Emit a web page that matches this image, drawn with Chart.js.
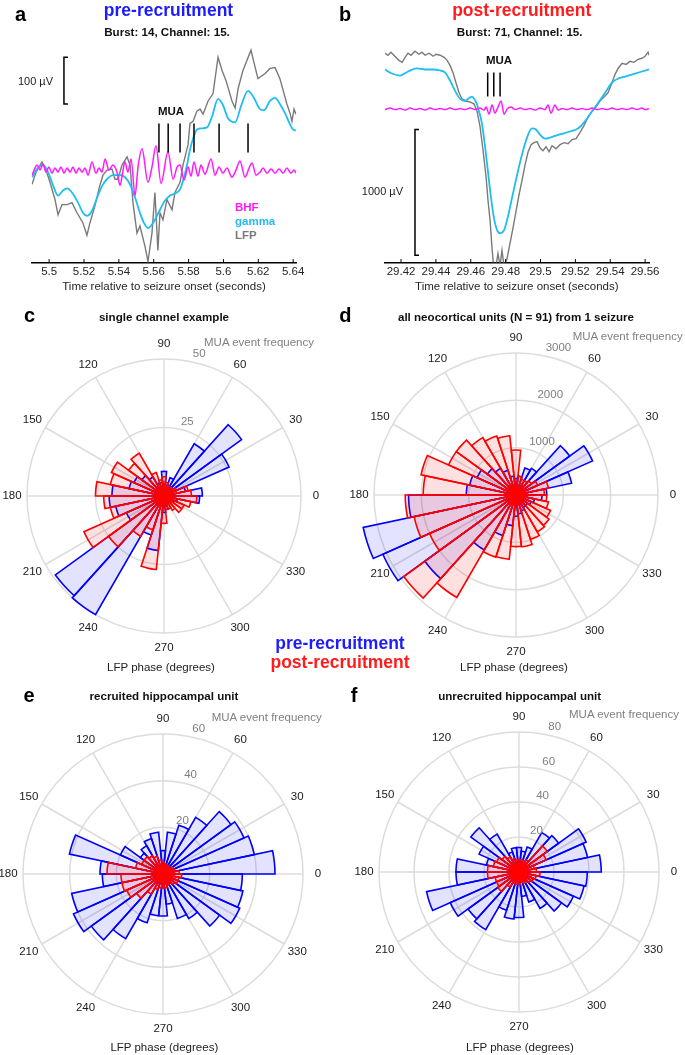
<!DOCTYPE html>
<html>
<head>
<meta charset="utf-8">
<script src="https://cdn.jsdelivr.net/npm/chart.js@4.4.1/dist/chart.umd.min.js"></script>
<style>
  body { margin: 0; background: #fff; }
  #fig { position: relative; width: 685px; height: 1055px; overflow: hidden;
         font-family: "Liberation Sans", Arial, Helvetica, sans-serif; color: #111; }
  #fig canvas { position: absolute; }
  .t { position: absolute; white-space: nowrap; line-height: 1; }
</style>
</head>
<body>
<div id="fig">
  <canvas id="pa" width="340" height="300" style="left:0;top:0"></canvas>
  <canvas id="pb" width="345" height="300" style="left:340px;top:0"></canvas>
  <canvas id="pc" width="340" height="380" style="left:0;top:300px"></canvas>
  <canvas id="pd" width="345" height="380" style="left:340px;top:300px"></canvas>
  <canvas id="pe" width="340" height="375" style="left:0;top:680px"></canvas>
  <canvas id="pf" width="345" height="375" style="left:340px;top:680px"></canvas>
</div>
<script>
// ---------- panel a : pre-recruitment traces (time in s, amplitude in µV) ----------
const aTicks = [5.5, 5.52, 5.54, 5.56, 5.58, 5.6, 5.62, 5.64];
const aTickLabels = ['5.5', '5.52', '5.54', '5.56', '5.58', '5.6', '5.62', '5.64'];

const lfpATime = [5.4902,5.4925,5.4959,5.4982,5.5005,5.5034,5.5051,5.5074,5.5103,5.5131,5.5160,5.5194,5.5217,5.5234,5.5263,5.5291,5.5309,5.5332,5.5361,5.5378,5.5395,5.5418,5.5447,5.5464,5.5481,5.5504,5.5521,5.5550,5.5567,5.5590,5.5607,5.5624,5.5636,5.5653,5.5676,5.5705,5.5722,5.5751,5.5768,5.5797,5.5808,5.5826,5.5848,5.5866,5.5883,5.5912,5.5940,5.5969,5.5992,5.6015,5.6049,5.6067,5.6084,5.6112,5.6158,5.6175,5.6198,5.6239,5.6267,5.6296,5.6324,5.6364,5.6382,5.6393,5.6405,5.6416];
const lfpAValue = [-27.2,-1.1,20.7,3.3,-22.8,-59.8,-92.4,-70.7,-70.7,-66.3,-88.0,-109.8,-135.9,-109.8,-72.8,-29.3,-7.6,3.3,5.4,-16.3,-16.3,14.1,31.5,14.1,-66.3,-131.5,-116.3,-159.8,-192.4,-131.5,-44.6,-168.5,-88.0,-103.3,-59.8,-81.5,-44.6,-22.8,14.1,57.6,103.3,107.6,129.4,133.7,122.8,151.1,166.3,244.6,216.3,194.6,151.1,135.9,177.2,216.3,259.8,233.7,198.9,209.8,220.7,222.8,198.9,144.6,125.0,107.6,133.7,122.8];

const gammaATime = [5.4902,5.4930,5.4965,5.4994,5.5016,5.5051,5.5080,5.5103,5.5131,5.5166,5.5194,5.5217,5.5246,5.5280,5.5309,5.5332,5.5366,5.5407,5.5435,5.5464,5.5493,5.5521,5.5544,5.5567,5.5596,5.5636,5.5665,5.5694,5.5722,5.5751,5.5774,5.5791,5.5808,5.5826,5.5848,5.5877,5.5906,5.5935,5.5969,5.5997,5.6026,5.6067,5.6101,5.6141,5.6175,5.6210,5.6233,5.6267,5.6296,5.6324,5.6353,5.6382,5.6399,5.6416];
const gammaAValue = [-12.0,5.4,14.1,-1.1,-22.8,-51.1,-40.2,-35.9,-44.6,-66.3,-88.0,-94.6,-83.7,-51.1,-27.2,-16.3,-7.6,-7.6,-12.0,-27.2,-55.4,-88.0,-109.8,-120.7,-109.8,-81.5,-62.0,-51.1,-46.7,-38.0,-12.0,14.1,46.7,70.7,90.2,92.4,94.6,118.5,155.4,142.4,114.1,105.4,140.2,172.8,157.6,133.7,131.5,151.1,157.6,144.6,125.0,101.1,90.2,88.0];

const bhfATime = [5.4902,5.4919,5.4930,5.4948,5.4965,5.4982,5.4999,5.5016,5.5034,5.5051,5.5068,5.5085,5.5103,5.5120,5.5137,5.5154,5.5171,5.5189,5.5206,5.5223,5.5246,5.5269,5.5286,5.5303,5.5321,5.5343,5.5366,5.5389,5.5407,5.5424,5.5435,5.5452,5.5470,5.5493,5.5510,5.5533,5.5567,5.5590,5.5613,5.5642,5.5682,5.5711,5.5734,5.5751,5.5774,5.5797,5.5814,5.5831,5.5854,5.5871,5.5894,5.5929,5.5952,5.5975,5.5997,5.6020,5.6049,5.6072,5.6095,5.6124,5.6147,5.6164,5.6187,5.6210,5.6227,5.6250,5.6273,5.6296,5.6319,5.6342,5.6364,5.6387,5.6405,5.6416];
const bhfAValue = [-7.6,7.6,14.1,3.3,16.3,-1.1,9.8,-3.3,7.6,-1.1,9.8,-3.3,7.6,-1.1,9.8,-3.3,7.6,-1.1,7.6,-7.6,20.7,-3.3,7.6,-1.1,27.2,3.3,14.1,-1.1,-29.3,3.3,20.7,-1.1,27.2,-51.1,9.8,48.9,-22.8,9.8,55.4,-25.0,42.4,-16.3,9.8,14.1,-18.5,9.8,-9.8,20.7,-9.8,14.1,-5.4,27.2,-7.6,9.8,-3.3,7.6,-12.0,3.3,22.8,-12.0,7.6,18.5,-7.6,-1.1,7.6,-3.3,5.4,-3.3,5.4,-3.3,7.6,-3.3,3.3,-3.3];

const muaATime = [5.5630, 5.5683, 5.5751, 5.5831, 5.5975, 5.6141];
const muaALevel = 71.7;
const barATime = 5.5085, barABase = 144.6, barASize = 100;

// ---------- panel b : post-recruitment traces ----------
const bTicks = [29.42, 29.44, 29.46, 29.48, 29.5, 29.52, 29.54, 29.56];
const bTickLabels = ['29.42', '29.44', '29.46', '29.48', '29.5', '29.52', '29.54', '29.56'];

const lfpBTime = [29.4108,29.4125,29.4142,29.4165,29.4188,29.4206,29.4223,29.4240,29.4257,29.4280,29.4303,29.4320,29.4338,29.4361,29.4384,29.4401,29.4424,29.4447,29.4464,29.4481,29.4498,29.4515,29.4533,29.4550,29.4573,29.4596,29.4619,29.4636,29.4653,29.4670,29.4688,29.4699,29.4711,29.4722,29.4733,29.4745,29.4756,29.4768,29.4779,29.4791,29.4808,29.4825,29.4842,29.4860,29.4877,29.4894,29.4911,29.4929,29.4946,29.4963,29.4980,29.4997,29.5014,29.5032,29.5049,29.5066,29.5089,29.5112,29.5135,29.5158,29.5181,29.5204,29.5227,29.5250,29.5272,29.5296,29.5318,29.5341,29.5364,29.5387,29.5410,29.5427,29.5445,29.5468,29.5491,29.5513,29.5536,29.5559,29.5582,29.5600,29.5617,29.5623];
const lfpBValue = [444.4,428.2,452.5,420.2,387.8,371.7,412.1,444.4,428.2,460.6,436.3,452.5,428.2,444.4,420.2,436.3,428.2,412.1,387.8,347.4,290.9,210.1,129.3,80.8,64.6,56.6,40.4,-16.2,-137.4,-323.2,-541.4,-727.2,-888.8,-1107.0,-1276.6,-1244.3,-1147.4,-1244.3,-1123.1,-1252.4,-1187.8,-1066.6,-945.4,-808.0,-678.7,-565.6,-444.4,-339.4,-282.8,-266.6,-258.6,-307.0,-331.3,-299.0,-339.4,-290.9,-315.1,-282.8,-266.6,-274.7,-242.4,-234.3,-185.8,-129.3,-64.6,-16.2,16.2,64.6,97.0,129.3,210.1,274.7,323.2,363.6,355.5,379.8,371.7,395.9,404.0,420.2,452.5,428.2];

const gammaBTime = [29.4108,29.4148,29.4194,29.4240,29.4292,29.4338,29.4384,29.4424,29.4453,29.4481,29.4510,29.4539,29.4567,29.4590,29.4607,29.4630,29.4647,29.4665,29.4682,29.4699,29.4716,29.4733,29.4751,29.4768,29.4791,29.4814,29.4837,29.4860,29.4883,29.4906,29.4929,29.4951,29.4974,29.4997,29.5026,29.5055,29.5089,29.5129,29.5169,29.5215,29.5255,29.5296,29.5330,29.5370,29.5410,29.5445,29.5485,29.5542,29.5582,29.5623];
const gammaBValue = [315.1,282.8,266.6,299.0,323.2,315.1,315.1,307.0,290.9,226.2,145.4,80.8,64.6,88.9,97.0,56.6,-16.2,-121.2,-299.0,-500.9,-702.9,-864.6,-961.5,-985.8,-961.5,-848.4,-702.9,-557.4,-420.2,-299.0,-202.0,-153.5,-161.6,-202.0,-234.3,-226.2,-210.1,-193.9,-177.8,-153.5,-97.0,-16.2,48.5,129.3,210.1,242.4,258.6,282.8,299.0,315.1];

const bhfBTime = [29.4108,29.4137,29.4166,29.4194,29.4223,29.4252,29.4280,29.4309,29.4338,29.4366,29.4395,29.4424,29.4453,29.4481,29.4510,29.4539,29.4567,29.4596,29.4625,29.4653,29.4676,29.4688,29.4705,29.4722,29.4739,29.4756,29.4774,29.4791,29.4808,29.4831,29.4854,29.4883,29.4911,29.4940,29.4969,29.4997,29.5026,29.5043,29.5060,29.5083,29.5100,29.5123,29.5152,29.5181,29.5209,29.5238,29.5267,29.5296,29.5324,29.5353,29.5382,29.5410,29.5439,29.5468,29.5496,29.5525,29.5554,29.5582,29.5600,29.5623];
const bhfBValue = [-4,8,-4,4,-8,8,-4,4,-8,8,-4,4,-4,8,-4,4,-4,8,-4,8,-8,16.2,-40.4,32.3,-32.3,16.2,64.6,-40.4,0,16.2,-4,8,-4,4,-8,8,-4,32.3,-32.3,32.3,-8,4,-4,8,-4,4,-4,8,-4,4,-4,8,-4,4,-4,8,-4,8,-4,4];

const muaBTime = [29.4697, 29.4732, 29.4768];
const muaBLevel = 196.3;
const barBTime = 29.4280, barBBase = -1161.6, barBSize = 1000;

// ---------- panels c-f : LFP phase histograms, 12 degree bins starting at 0 ----------
const binStarts = [0, 12, 24, 36, 48, 60, 72, 84, 96, 108, 120, 132, 144, 156, 168, 180, 192, 204, 216, 228, 240, 252, 264, 276, 288, 300, 312, 324, 336, 348];
const angleTicks = [0, 30, 60, 90, 120, 150, 180, 210, 240, 270, 300, 330];

const preC  = [14, 8, 26, 35, 22, 7, 4, 9, 5, 5, 8, 10, 12, 13, 19, 20, 18, 15, 49, 50, 15, 20, 6, 4, 3, 3, 3, 4, 5, 13];
const postC = [10, 9, 5, 4, 3, 4, 5, 7, 6, 9, 18, 16, 21, 20, 25, 22, 20, 32, 25, 17, 13, 27, 10, 5, 5, 6, 8, 8, 10, 12];

const preD  = [650, 1200, 1770, 1400, 650, 600, 400, 350, 400, 550, 650, 750, 900, 1000, 1050, 2270, 3300, 3080, 2380, 1340, 900, 650, 450, 400, 350, 300, 300, 350, 400, 550];
const postD = [600, 700, 500, 400, 350, 350, 400, 950, 1260, 1310, 1400, 1560, 1560, 2050, 1960, 2340, 2200, 2000, 2930, 2500, 1380, 1365, 1090, 1100, 985, 900, 865, 800, 700, 650];

const preE  = [48, 40, 38, 36, 28, 22, 18, 10, 18, 16, 14, 12, 20, 41, 27, 26, 40, 42, 38, 32, 22, 18, 18, 13, 20, 22, 30, 36, 35, 34];
const postE = [7, 5, 5, 4, 4, 4, 4, 5, 6, 8, 9, 10, 10, 12, 24, 18, 18, 17, 14, 10, 7, 6, 6, 6, 5, 5, 6, 7, 7, 8];

const preF  = [47, 40, 42, 28, 26, 15, 12, 14, 14, 12, 25, 34, 25, 19, 36, 36, 54, 43, 36, 38, 23, 27, 26, 14, 18, 24, 30, 34, 38, 39];
const postF = [10, 9, 17, 20, 8, 6, 7, 7, 7, 8, 10, 12, 14, 15, 18, 18, 14, 14, 15, 10, 7, 7, 7, 6, 6, 7, 8, 9, 10, 12];

const FONT = '"Liberation Sans", Arial, Helvetica, sans-serif';
Chart.defaults.font.family = FONT;
Chart.defaults.color = '#262626';
Chart.defaults.animation = false;

const zip = (t, v) => t.map((x, i) => ({ x, y: v[i] }));

// little inward ticks on the time axis, like the original
const inwardTicks = {
  id: 'inwardTicks',
  afterDraw(chart) {
    const sx = chart.scales.x, ctx = chart.ctx;
    ctx.save();
    ctx.strokeStyle = '#000';
    ctx.lineWidth = 1;
    sx.ticks.forEach(tk => {
      const px = sx.getPixelForValue(tk.value);
      ctx.beginPath();
      ctx.moveTo(px, sx.top);
      ctx.lineTo(px, sx.top - 3.5);
      ctx.stroke();
    });
    ctx.restore();
  }
};

function traceChart(id, c) {
  const serif = 0.0023;
  return new Chart(document.getElementById(id), {
    type: 'line',
    data: {
      datasets: [
        { data: c.mua.map(t => ({ x: t, y: c.muaLevel })), showLine: false,
          pointStyle: 'line', pointRotation: 90, pointRadius: c.muaHalf,
          pointBorderColor: '#000', pointBorderWidth: 1.5 },
        { data: [
            { x: c.bar[0] + serif, y: c.bar[1] + c.bar[2] }, { x: c.bar[0], y: c.bar[1] + c.bar[2] },
            { x: c.bar[0], y: c.bar[1] }, { x: c.bar[0] + serif, y: c.bar[1] } ],
          borderColor: '#000', borderWidth: 1.5, pointRadius: 0, tension: 0 },
        { data: zip(c.bhf[0], c.bhf[1]), borderColor: '#ff1aff', borderWidth: 1.5,
          pointRadius: 0, cubicInterpolationMode: 'monotone' },
        { data: zip(c.gamma[0], c.gamma[1]), borderColor: '#1fbdf0', borderWidth: 1.8,
          pointRadius: 0, cubicInterpolationMode: 'monotone' },
        { data: zip(c.lfp[0], c.lfp[1]), borderColor: '#7a7a7a', borderWidth: 1.4,
          pointRadius: 0, tension: 0 }
      ]
    },
    options: {
      responsive: false,
      animation: false,
      layout: { padding: c.pad },
      plugins: { legend: { display: false }, tooltip: { enabled: false } },
      scales: {
        x: {
          type: 'linear', min: c.xr[0], max: c.xr[1],
          afterBuildTicks: s => { s.ticks = c.ticks.map(v => ({ value: v })); },
          ticks: { autoSkip: false, maxRotation: 0, padding: 2, font: { size: 11.5 }, color: '#262626',
                   callback: (v, i) => c.labels[i] },
          grid: { display: false, drawTicks: false },
          border: { display: true, color: '#000', width: 1.5 },
          title: { display: true, text: 'Time relative to seizure onset (seconds)',
                   font: { size: 11.5 }, color: '#262626', padding: { top: 0, bottom: 0 } }
        },
        y: { display: false, min: c.yr[0], max: c.yr[1] }
      }
    },
    plugins: [inwardTicks]
  });
}

traceChart('pa', {
  ticks: aTicks, labels: aTickLabels, xr: [5.49, 5.6418], yr: [-194.6, 281.5],
  pad: { left: 31.7, right: 43.7, top: 40, bottom: 5.8 },
  lfp: [lfpATime, lfpAValue], gamma: [gammaATime, gammaAValue], bhf: [bhfATime, bhfAValue],
  mua: muaATime, muaLevel: muaALevel, muaHalf: 14.5, bar: [barATime, barABase, barASize]
});
traceChart('pb', {
  ticks: bTicks, labels: bTickLabels, xr: [29.4104, 29.5624], yr: [-1220, 549.4],
  pad: { left: 44.3, right: 35.7, top: 40, bottom: 5.8 },
  lfp: [lfpBTime, lfpBValue], gamma: [gammaBTime, gammaBValue], bhf: [bhfBTime, bhfBValue],
  mua: muaBTime, muaLevel: muaBLevel, muaHalf: 12, bar: [barBTime, barBBase, barBSize]
});

// spokes every 30 degrees, angle labels and radial tick labels
const polarDecor = {
  id: 'polarDecor',
  beforeDatasetsDraw(chart) {
    const r = chart.scales.r, ctx = chart.ctx;
    ctx.save();
    ctx.strokeStyle = '#dcdcdc';
    ctx.lineWidth = 1.5;
    angleTicks.forEach(a => {
      const t = a * Math.PI / 180;
      ctx.beginPath();
      ctx.moveTo(r.xCenter, r.yCenter);
      ctx.lineTo(r.xCenter + r.drawingArea * Math.cos(t), r.yCenter - r.drawingArea * Math.sin(t));
      ctx.stroke();
    });
    ctx.restore();
  },
  afterDraw(chart) {
    const r = chart.scales.r, ctx = chart.ctx;
    ctx.save();
    ctx.font = '11.5px ' + FONT;
    ctx.textAlign = 'center';
    ctx.textBaseline = 'middle';
    ctx.fillStyle = '#1a1a1a';
    const lr = r.drawingArea + 15;
    angleTicks.forEach(a => {
      const t = a * Math.PI / 180;
      ctx.fillText(String(a), r.xCenter + lr * Math.cos(t), r.yCenter - lr * Math.sin(t));
    });
    ctx.fillStyle = '#808080';
    ctx.textAlign = 'left';
    const t80 = 80 * Math.PI / 180;
    r.ticks.filter(tk => tk.value > 0).forEach(tk => {
      const d = r.getDistanceFromCenterForValue(tk.value);
      ctx.fillText(String(tk.value), r.xCenter + d * Math.cos(t80) + 5, r.yCenter - d * Math.sin(t80) - 7);
    });
    ctx.restore();
  }
};

function roseChart(id, pad, rMax, step, pre, post) {
  // chart.js runs clockwise from startAngle, so feed the bins from 348 down to 0
  return new Chart(document.getElementById(id), {
    type: 'polarArea',
    data: {
      labels: binStarts.slice().reverse().map(String),
      datasets: [
        { data: post.slice().reverse(), backgroundColor: 'rgba(255,0,0,0.12)',
          borderColor: '#ff0000', borderWidth: 1.6, borderJoinStyle: 'miter' },
        { data: pre.slice().reverse(), backgroundColor: 'rgba(0,0,255,0.11)',
          borderColor: '#0000ff', borderWidth: 1.6, borderJoinStyle: 'miter' }
      ]
    },
    options: {
      responsive: false,
      animation: false,
      layout: { padding: pad },
      plugins: { legend: { display: false }, tooltip: { enabled: false } },
      scales: {
        r: {
          min: 0, max: rMax, startAngle: 90,
          ticks: { display: false, stepSize: step },
          grid: { color: '#dcdcdc', lineWidth: 1.5 },
          angleLines: { display: false },
          pointLabels: { display: false }
        }
      }
    },
    plugins: [polarDecor]
  });
}

roseChart('pc', { left: 27, right: 39, top: 59, bottom: 47 }, 50, 25, preC, postC);
roseChart('pd', { left: 34, right: 27, top: 53, bottom: 43 }, 3000, 1000, preD, postD);
roseChart('pe', { left: 23, right: 37, top: 54, bottom: 41 }, 60, 20, preE, postE);
roseChart('pf', { left: 39.5, right: 25.5, top: 52.7, bottom: 42.3 }, 80, 20, preF, postF);

// ---------- text ----------
const BLUE = '#1c1cff', RED = '#ff1c1c';
const texts = [
  ['a', 20.5, 14, 'bold 20px', '#000'], ['b', 345, 14, 'bold 20px', '#000'],
  ['c', 29.5, 315, 'bold 20px', '#000'], ['d', 345.3, 315, 'bold 20px', '#000'],
  ['e', 29, 695, 'bold 20px', '#000'], ['f', 354, 695, 'bold 20px', '#000'],
  ['pre-recruitment', 168.5, 11, 'bold 17.5px', BLUE],
  ['Burst: 14, Channel: 15.', 167, 32, 'bold 11.6px', '#111'],
  ['post-recruitment', 521.7, 11, 'bold 17.5px', RED],
  ['Burst: 71, Channel: 15.', 519.7, 32, 'bold 11.6px', '#111'],
  ['MUA', 171, 112, 'bold 11.5px', '#111'], ['MUA', 499, 61, 'bold 11.5px', '#111'],
  ['100 µV', 53, 81, '11px', '#222', 'right'], ['1000 µV', 403, 191, '11px', '#222', 'right'],
  ['BHF', 235, 208, 'bold 11.5px', '#ff1aff', 'left'],
  ['gamma', 235, 222, 'bold 11.5px', '#1fbdf0', 'left'],
  ['LFP', 235, 236, 'bold 11.5px', '#7a7a7a', 'left'],
  ['single channel example', 164, 316.7, 'bold 11.6px', '#111'],
  ['all neocortical units (N = 91) from 1 seizure', 516, 316.7, 'bold 11.6px', '#111'],
  ['recruited hippocampal unit', 164, 695.7, 'bold 11.6px', '#111'],
  ['unrecruited hippocampal unit', 519.7, 695.7, 'bold 11.6px', '#111'],
  ['MUA event frequency', 259, 342.7, '11.5px', '#808080'],
  ['MUA event frequency', 627.7, 337.3, '11.5px', '#808080'],
  ['MUA event frequency', 266.7, 717.7, '11.5px', '#808080'],
  ['MUA event frequency', 624, 715, '11.5px', '#808080'],
  ['LFP phase (degrees)', 161, 668, '11.5px', '#222'],
  ['LFP phase (degrees)', 514, 668, '11.5px', '#222'],
  ['LFP phase (degrees)', 164.3, 1048.3, '11.5px', '#222'],
  ['LFP phase (degrees)', 520, 1048.3, '11.5px', '#222'],
  ['pre-recruitment', 340, 643.5, 'bold 17.5px', BLUE],
  ['post-recruitment', 340, 663, 'bold 17.5px', RED]
];
const fig = document.getElementById('fig');
texts.forEach(([s, x, y, f, col, align]) => {
  const d = document.createElement('div');
  d.className = 't';
  d.textContent = s;
  d.style.font = f + ' ' + FONT;
  d.style.lineHeight = '1';
  d.style.color = col;
  d.style.left = x + 'px';
  d.style.top = y + 'px';
  const tx = align === 'left' ? '0' : align === 'right' ? '-100%' : '-50%';
  d.style.transform = 'translate(' + tx + ',-50%)';
  fig.appendChild(d);
});
</script>
</body>
</html>
